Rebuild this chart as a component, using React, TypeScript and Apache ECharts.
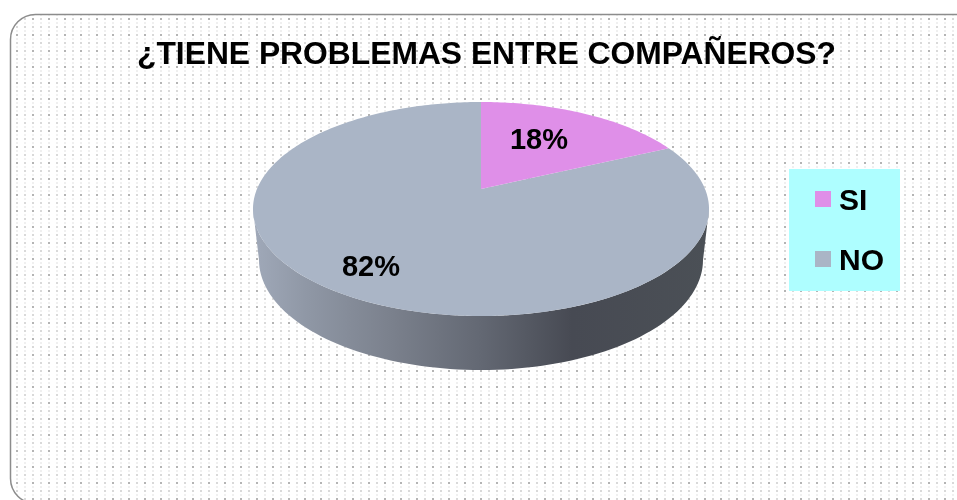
import React, { useEffect, useRef } from "react";
import * as echarts from "echarts";

const titleText = "¿TIENE PROBLEMAS ENTRE COMPAÑEROS?";
const categories = ["SI", "NO"];
const siValues = [18];
const noValues = [82];

const FONT = '"Liberation Sans", Arial, sans-serif';
const colors = { SI: "#df8fe8", NO: "#aab5c6" };
const labelPos: Record<string, [number, number]> = { SI: [539, 139], NO: [371, 266] };

// perspective projection of the disc: back of the pie is foreshortened
const CX = 481, CY = 209, RX = 228, RY = 107, APEX = 20;
const persp = APEX * 2 / (RY * 2);
const scaleU = 224;

function project(thetaDeg: number, r = 1): [number, number] {
  const t = (thetaDeg * Math.PI) / 180;
  const u = Math.sin(t) * r, v = Math.cos(t) * r;
  const d = persp * v + 1;
  return [CX + (scaleU * u) / d, CY - (RY * v + APEX * (r > 0 ? 1 : 1)) / d];
}

function makeTile() {
  const c = document.createElement("canvas");
  c.width = 32; c.height = 32;
  const g = c.getContext("2d")!;
  g.clearRect(0, 0, 32, 32);
  for (let y = 2; y < 32; y += 4) {
    for (let x = 0; x < 32; x += 8) {
      const evenRow = (y - 2) % 8 === 0;
      const strong = evenRow && x % 16 === 0 && (y - 2) % 16 === 0;
      const mid = evenRow && !strong;
      const a = strong ? 0.6 : mid ? 0.3 : 0.12;
      g.fillStyle = `rgba(130,130,130,${a})`;
      g.fillRect(x, y, 2, 2);
    }
  }
  return c;
}

function sliceRender(startFrac: () => number, name: string, withWall: boolean) {
  return (_p: any, api: any) => {
    const total = siValues[0] + noValues[0];
    const a0 = startFrac() * 360 / total;
    const a1 = a0 + (api.value(0) * 360) / total;
    const pts: [number, number][] = [project(0, 0)];
    for (let a = a0; a <= a1; a += 1) pts.push(project(a));
    pts.push(project(a1));
    const children: any[] = [];
    if (withWall) {
      const wall: [number, number][] = [];
      for (let p = 180; p >= 0; p -= 2) {
        const t = (p * Math.PI) / 180;
        wall.push([CX + RX * Math.cos(t), CY + RY * Math.sin(t)]);
      }
      for (let p = 0; p <= 180; p += 2) {
        const t = (p * Math.PI) / 180;
        wall.push([CX + 222 * Math.cos(t), 260 + 110 * Math.sin(t)]);
      }
      children.push({
        type: "polygon",
        shape: { points: wall },
        style: {
          fill: new echarts.graphic.LinearGradient(0, 0, 1, 0, [
            { offset: 0, color: "#a0a9b9" },
            { offset: 0.12, color: "#8f97a5" },
            { offset: 0.3, color: "#7b818d" },
            { offset: 0.5, color: "#636873" },
            { offset: 0.7, color: "#474a53" },
            { offset: 1, color: "#4b5056" },
          ]),
        },
      });
    }
    children.push({
      type: "polygon",
      shape: { points: pts },
      style: { fill: (colors as any)[name] },
    });
    const [lx, ly] = labelPos[name];
    children.push({
      type: "text",
      z2: 10,
      style: {
        text: `${Math.round((api.value(0) * 100) / total)}%`,
        x: lx, y: ly, align: "center", verticalAlign: "middle",
        font: `bold 29px ${FONT}`, fill: "#000",
      },
    });
    return { type: "group", children };
  };
}

export default function App() {
  const ref = useRef<HTMLDivElement>(null);
  useEffect(() => {
    const chart = echarts.init(ref.current!, undefined, { renderer: "svg", width: 957, height: 500 });
    chart.setOption({
      animation: false,
      backgroundColor: "#ffffff",
      title: {
        text: titleText,
        left: 137, top: 37, padding: 0,
        textStyle: { fontFamily: FONT, fontWeight: "bold", fontSize: 31.8, color: "#000" },
      },
      legend: {
        orient: "vertical", left: 789, top: 169,
        backgroundColor: "#aefeff",
        padding: [15, 16, 17, 26],
        itemWidth: 16, itemHeight: 16, itemGap: 30,
        icon: "rect",
        data: categories,
        textStyle: { fontFamily: FONT, fontWeight: "bold", fontSize: 30, color: "#000", lineHeight: 30, padding: [0, 0, 0, 3] },
      },
      graphic: [{
        type: "rect", silent: true, z: -10,
        shape: { x: 10.5, y: 14.5, width: 980, height: 489, r: 25 },
        style: { fill: { image: makeTile(), repeat: "repeat" } as any, stroke: "#8c8c8c", lineWidth: 1.5 },
      }],
      series: [
        {
          name: categories[1], type: "custom", coordinateSystem: "none", z: 2,
          itemStyle: { color: colors.NO }, data: noValues.map((v) => [v]),
          renderItem: sliceRender(() => siValues[0], "NO", true),
        },
        {
          name: categories[0], type: "custom", coordinateSystem: "none", z: 3,
          itemStyle: { color: colors.SI }, data: siValues.map((v) => [v]),
          renderItem: sliceRender(() => 0, "SI", false),
        },
      ],
    });
    return () => chart.dispose();
  }, []);
  return <div ref={ref} style={{ position: "absolute", left: 0, top: 0, width: 957, height: 500, filter: "blur(0.5px)" }} />;
}
